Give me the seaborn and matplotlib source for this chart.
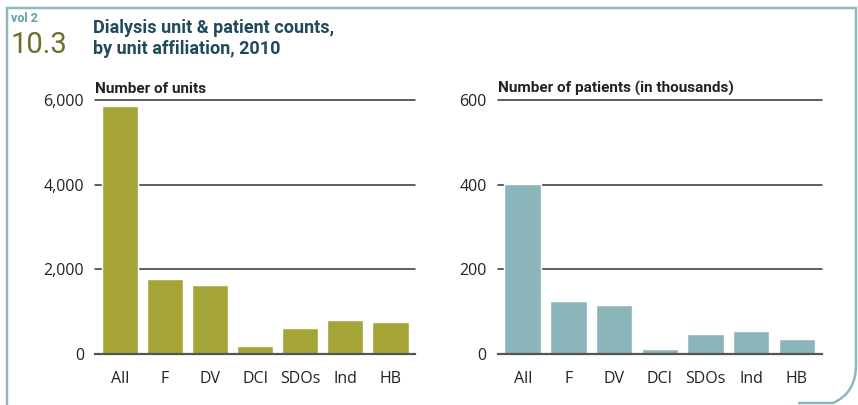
import matplotlib
matplotlib.use("Agg")
import matplotlib.pyplot as plt
import seaborn as sns
import pandas as pd
from matplotlib.path import Path
from matplotlib.patches import PathPatch

# data
categories = ["All", "F", "DV", "DCI", "SDOs", "Ind", "HB"]
units = [5870, 1770, 1630, 190, 610, 800, 755]
patients = [401, 125, 116, 12, 47, 54, 35]  # thousands
units_ticks = [0, 2000, 4000, 6000]
patients_ticks = [0, 200, 400, 600]

olive = "#A5A537"
teal = "#8AB5B9"

sns.set_theme(style="white")
plt.rcParams["font.family"] = ["Roboto", "DejaVu Sans"]

fig = plt.figure(figsize=(8.58, 4.05), dpi=100)
ax1 = fig.add_axes([0.111, 0.126, 0.373, 0.627])
ax2 = fig.add_axes([0.580, 0.126, 0.378, 0.627])

panels = [
    (ax1, units, units_ticks, olive, "Number of units", lambda v: f"{v:,}"),
    (ax2, patients, patients_ticks, teal, "Number of patients (in thousands)", lambda v: f"{v}"),
]

for ax, vals, ticks, col, sub, fmt in panels:
    df = pd.DataFrame({"cat": categories, "val": vals})
    sns.barplot(data=df, x="cat", y="val", color=col, saturation=1, width=0.8, ax=ax)
    ax.set_xlim(-0.55, 6.55)
    ax.set_ylim(0, ticks[-1])
    ax.set_yticks(ticks)
    ax.set_yticklabels([fmt(t) for t in ticks], fontsize=11.5, color="#222222",
                       family=["Open Sans", "DejaVu Sans"])
    ax.tick_params(axis="x", labelsize=11.5, colors="#222222", length=0, pad=12)
    ax.tick_params(axis="y", length=0, pad=8)
    for lab in ax.get_xticklabels():
        lab.set_family(["Open Sans", "DejaVu Sans"])
    for t in ticks[1:]:
        ax.axhline(t, color="#333333", lw=1.1, zorder=0, clip_on=False)
    ax.set_xlabel("")
    ax.set_ylabel("")
    for s in ["top", "right", "left"]:
        ax.spines[s].set_visible(False)
    ax.spines["bottom"].set_color("#555555")
    ax.spines["bottom"].set_linewidth(1.6)
    ax.text(0, 1.015, sub, transform=ax.transAxes, fontsize=11, fontweight="bold",
            color="#222222", ha="left", va="bottom")

# header
fig.text(0.013, 0.945, "vol 2", fontsize=9, fontweight="bold", color="#5C9EAB")
fig.text(0.012, 0.868, "10.3", fontsize=21, color="#6E6E2C")
fig.text(0.108, 0.918, "Dialysis unit & patient counts,", fontsize=13, fontweight="bold",
         color="#1F4A5B")
fig.text(0.108, 0.866, "by unit affiliation, 2010", fontsize=13, fontweight="bold",
         color="#1F4A5B")

# frame: left and top edges, right edge with rounded bottom-right corner
W, H = 858, 405
pts = [(7, 0), (7, H - 8), (W - 2, H - 8), (W - 2, 40), (W - 2, 12), (W - 25, 2), (W - 60, 2)]
codes = [Path.MOVETO, Path.LINETO, Path.LINETO, Path.LINETO, Path.CURVE3, Path.CURVE3, Path.LINETO]
verts = [(x / W, y / H) for x, y in pts]
fig.patches.append(PathPatch(Path(verts, codes), transform=fig.transFigure, fill=False,
                             edgecolor="#8DB8C2", lw=1.8))

fig.savefig("out.png", dpi=100)
